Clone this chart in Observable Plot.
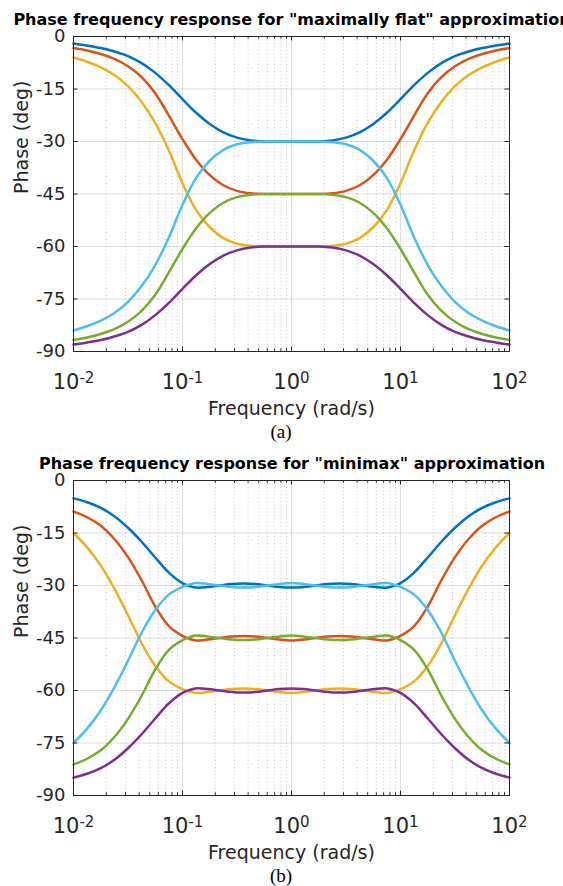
<!DOCTYPE html>
<html>
<head>
<meta charset="utf-8">
<script src="https://cdn.jsdelivr.net/npm/d3@7"></script>
<script src="https://cdn.jsdelivr.net/npm/@observablehq/plot@0.6"></script>
<style>
  html, body { margin: 0; padding: 0; background: #fff; width: 563px; height: 886px; overflow: hidden; }
  .block { position: relative; width: 563px; height: 444px; }
  .block svg { position: absolute; left: 0; top: 0; }
  .title { position: absolute; left: 292px; top: 12px; transform: translateX(-50%); white-space: nowrap;
           font-family: "DejaVu Sans", sans-serif; font-weight: bold; font-size: 16px; line-height: 16px; color: #000; }
  .cap { position: absolute; left: 281px; top: 422px; transform: translateX(-50%); white-space: nowrap;
         font-family: "Liberation Serif", serif; font-size: 19px; line-height: 19px; color: #000; }
</style>
</head>
<body>
<div id="root"></div>
<script>
// ---------- data ----------
const titles = ['Phase frequency response for "maximally flat" approximation',
                'Phase frequency response for "minimax" approximation'];
const captions = ["(a)", "(b)"];
const xLabel = "Frequency (rad/s)";
const yLabel = "Phase (deg)";
const yTicks = [0, -15, -30, -45, -60, -75, -90];
const xMajor = [0.01, 0.1, 1, 10, 100];
const seriesColors = ["#0072BD", "#D95319", "#EDB120", "#7E2F8E", "#77AC30", "#4DBEEE"];

// panel (a): log10 of frequency
const logFreqA = [-2,-1.875,-1.75,-1.625,-1.5,-1.375,-1.25,-1.125,-1,-0.875,-0.75,-0.625,-0.5,-0.375,-0.25,-0.125,0,
                  0.125,0.25,0.375,0.5,0.625,0.75,0.875,1,1.125,1.25,1.375,1.5,1.625,1.75,1.875,2];
const blueA   = [-2.0,-2.6,-3.3,-4.3,-5.6,-7.6,-10.4,-13.9,-17.9,-21.8,-25.0,-27.4,-28.9,-29.7,-30.0,-30.0,-30.0,-30.0,-30.0,-29.7,-28.9,-27.4,-25.0,-21.8,-17.9,-13.9,-10.4,-7.6,-5.6,-4.3,-3.3,-2.6,-2.0];
const redA    = [-3.3,-4.0,-5.0,-6.4,-8.5,-11.6,-16.2,-22.6,-29.3,-35.2,-39.6,-42.5,-44.1,-44.8,-45.0,-45.0,-45.0,-45.0,-45.0,-44.8,-44.1,-42.5,-39.6,-35.2,-29.3,-22.6,-16.2,-11.6,-8.5,-6.4,-5.0,-4.0,-3.3];
const yellowA = [-6.0,-7.2,-8.8,-11.0,-14.2,-18.7,-24.7,-32.6,-41.9,-49.6,-54.5,-57.6,-59.2,-59.8,-60.0,-60.0,-60.0,-60.0,-60.0,-59.8,-59.2,-57.6,-54.5,-49.6,-41.9,-32.6,-24.7,-18.7,-14.2,-11.0,-8.8,-7.2,-6.0];
const purpleA = [-88.0,-87.4,-86.7,-85.7,-84.4,-82.4,-79.6,-76.1,-72.1,-68.2,-65.0,-62.6,-61.1,-60.3,-60.0,-60.0,-60.0,-60.0,-60.0,-60.3,-61.1,-62.6,-65.0,-68.2,-72.1,-76.1,-79.6,-82.4,-84.4,-85.7,-86.7,-87.4,-88.0];
const greenA  = [-86.7,-86.0,-85.0,-83.6,-81.5,-78.4,-73.8,-67.4,-60.7,-54.8,-50.4,-47.5,-45.9,-45.2,-45.0,-45.0,-45.0,-45.0,-45.0,-45.2,-45.9,-47.5,-50.4,-54.8,-60.7,-67.4,-73.8,-78.4,-81.5,-83.6,-85.0,-86.0,-86.7];
const cyanA   = [-84.0,-82.8,-81.2,-79.0,-75.8,-71.3,-65.3,-57.4,-48.1,-40.4,-35.5,-32.4,-30.8,-30.2,-30.0,-30.0,-30.0,-30.0,-30.0,-30.2,-30.8,-32.4,-35.5,-40.4,-48.1,-57.4,-65.3,-71.3,-75.8,-79.0,-81.2,-82.8,-84.0];

// panel (b): log10 of frequency
const logFreqB = [-2,-1.875,-1.75,-1.625,-1.5,-1.375,-1.25,-1.125,-1,-0.94,-0.88,-0.77,-0.66,-0.55,-0.44,-0.33,-0.22,-0.11,0,
                  0.11,0.22,0.33,0.44,0.55,0.66,0.77,0.88,0.94,1,1.125,1.25,1.375,1.5,1.625,1.75,1.875,2];
const blueB   = [-5.1,-6.2,-7.8,-10.2,-13.5,-17.5,-22.0,-26.3,-29.3,-30.1,-30.6,-30.45,-30.0,-29.55,-29.4,-29.55,-30.0,-30.45,-30.6,-30.45,-30.0,-29.55,-29.4,-29.55,-30.0,-30.45,-30.6,-30.1,-29.3,-26.3,-22.0,-17.5,-13.5,-10.2,-7.8,-6.2,-5.1];
const redB    = [-8.9,-10.5,-12.9,-16.7,-21.9,-28.5,-36.0,-41.6,-44.4,-45.2,-45.7,-45.45,-45.0,-44.55,-44.4,-44.55,-45.0,-45.45,-45.7,-45.45,-45.0,-44.55,-44.4,-44.55,-45.0,-45.45,-45.7,-45.2,-44.4,-41.6,-36.0,-28.5,-21.9,-16.7,-12.9,-10.5,-8.9];
const yellowB = [-15.0,-19.1,-24.3,-30.9,-38.5,-46.5,-53.0,-57.4,-59.6,-60.25,-60.7,-60.45,-60.0,-59.55,-59.4,-59.55,-60.0,-60.45,-60.7,-60.45,-60.0,-59.55,-59.4,-59.55,-60.0,-60.45,-60.7,-60.25,-59.6,-57.4,-53.0,-46.5,-38.5,-30.9,-24.3,-19.1,-15.0];
const purpleB = [-84.9,-83.8,-82.2,-79.8,-76.5,-72.5,-68.0,-63.7,-60.7,-59.9,-59.4,-59.55,-60.0,-60.45,-60.6,-60.45,-60.0,-59.55,-59.4,-59.55,-60.0,-60.45,-60.6,-60.45,-60.0,-59.55,-59.4,-59.9,-60.7,-63.7,-68.0,-72.5,-76.5,-79.8,-82.2,-83.8,-84.9];
const greenB  = [-81.1,-79.5,-77.1,-73.3,-68.1,-61.5,-54.0,-48.4,-45.6,-44.8,-44.3,-44.55,-45.0,-45.45,-45.6,-45.45,-45.0,-44.55,-44.3,-44.55,-45.0,-45.45,-45.6,-45.45,-45.0,-44.55,-44.3,-44.8,-45.6,-48.4,-54.0,-61.5,-68.1,-73.3,-77.1,-79.5,-81.1];
const cyanB   = [-75.0,-70.9,-65.7,-59.1,-51.5,-43.5,-37.0,-32.6,-30.4,-29.75,-29.3,-29.55,-30.0,-30.45,-30.6,-30.45,-30.0,-29.55,-29.3,-29.55,-30.0,-30.45,-30.6,-30.45,-30.0,-29.55,-29.3,-29.75,-30.4,-32.6,-37.0,-43.5,-51.5,-59.1,-65.7,-70.9,-75.0];

// ---------- drawing ----------
const W = 563, H = 420;
const ML = 73, MR = 54, MT = 36, MB = 69;
const FW = W - ML - MR, FH = H - MT - MB;
const ink = "#262626";
const xMinor = [];
for (const base of [0.01, 0.1, 1, 10]) for (let m = 2; m <= 9; m++) xMinor.push(+(m * base).toPrecision(3));

function makePanel(idx, logFreq, series) {
  const freq = logFreq.map(e => Math.pow(10, e));
  const lineMarks = series.map((vals, k) =>
    Plot.line(vals.map((v, i) => ({f: freq[i], v})),
      {x: "f", y: "v", stroke: seriesColors[k], strokeWidth: 2.5, curve: "catmull-rom"}));

  const svg = Plot.plot({
    width: W, height: H,
    marginLeft: ML, marginRight: MR, marginTop: MT, marginBottom: MB,
    style: {fontFamily: "'DejaVu Sans', sans-serif", background: "transparent", color: ink, overflow: "visible"},
    x: {type: "log", domain: [0.01, 100], axis: null},
    y: {domain: [-90, 0], axis: null},
    marks: [
      Plot.ruleX(xMinor, {stroke: ink, strokeOpacity: 0.25, strokeDasharray: "1,2.5"}),
      Plot.ruleX(xMajor, {stroke: ink, strokeOpacity: 0.15}),
      Plot.ruleY(yTicks, {stroke: ink, strokeOpacity: 0.15}),
      ...lineMarks,
      Plot.ruleX(xMajor, {stroke: ink, insetTop: FH - 4.5}),
      Plot.ruleX(xMajor, {stroke: ink, insetBottom: FH - 4.5}),
      Plot.ruleX(xMinor, {stroke: ink, insetTop: FH - 2.7}),
      Plot.ruleX(xMinor, {stroke: ink, insetBottom: FH - 2.7}),
      Plot.ruleY(yTicks, {stroke: ink, insetRight: FW - 4.5}),
      Plot.ruleY(yTicks, {stroke: ink, insetLeft: FW - 4.5}),
      Plot.frame({stroke: ink}),
      Plot.axisY({ticks: yTicks, tickSize: 0, tickPadding: 8, tickFormat: d => String(d), fontSize: 18, label: null}),
      Plot.text(xMajor, {x: d => d, frameAnchor: "bottom", dy: 31, text: d => String(Math.round(Math.log10(d))),
                         fontSize: 21, lineAnchor: "middle", fill: ink, className: "xtl"}),
      Plot.text([xLabel], {frameAnchor: "bottom", dy: 57, fontSize: 19, lineAnchor: "middle", fill: ink}),
      Plot.text([yLabel], {frameAnchor: "left", dx: -52, rotate: -90, fontSize: 19, lineAnchor: "middle", fill: ink})
    ]
  });

  // turn exponent labels into 10^e with a superscript
  d3.select(svg).selectAll(".xtl text").each(function () {
    const e = this.textContent;
    this.textContent = "10";
    const t = document.createElementNS("http://www.w3.org/2000/svg", "tspan");
    t.setAttribute("dy", "-0.42em");
    t.setAttribute("font-size", "15");
    t.textContent = e;
    this.appendChild(t);
  });

  const block = document.createElement("div");
  block.className = "block";
  block.appendChild(svg);
  const t = document.createElement("div");
  t.className = "title";
  t.textContent = titles[idx];
  block.appendChild(t);
  const c = document.createElement("div");
  c.className = "cap";
  c.textContent = captions[idx];
  block.appendChild(c);
  document.getElementById("root").appendChild(block);
}

makePanel(0, logFreqA, [blueA, redA, yellowA, purpleA, greenA, cyanA]);
makePanel(1, logFreqB, [blueB, redB, yellowB, purpleB, greenB, cyanB]);
</script>
</body>
</html>
